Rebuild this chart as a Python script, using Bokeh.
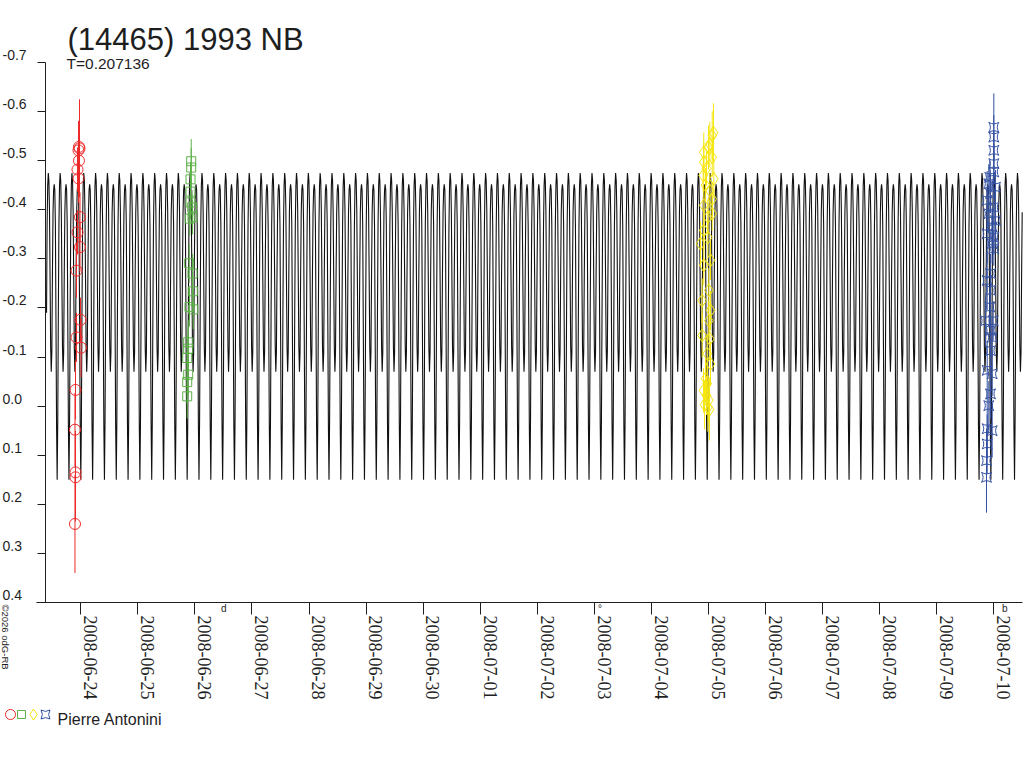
import numpy as np
from bokeh.plotting import figure
from bokeh.models import Range1d, FixedTicker, ColumnDataSource, LabelSet, Label
from bokeh.core.properties import value
from bokeh.embed import file_html
from bokeh.resources import INLINE

# ---------------- data ----------------
title_text = "(14465) 1993 NB"
subtitle_text = "T=0.207136"
period_days = 0.207136
observer = "Pierre Antonini"
copyright_text = "\u00a92026 odG-RB"

date_ticks = ["2008-06-24", "2008-06-25", "2008-06-26", "2008-06-27", "2008-06-28",
              "2008-06-29", "2008-06-30", "2008-07-01", "2008-07-02", "2008-07-03",
              "2008-07-04", "2008-07-05", "2008-07-06", "2008-07-07", "2008-07-08",
              "2008-07-09", "2008-07-10"]
mag_ticks = [-0.7, -0.6, -0.5, -0.4, -0.3, -0.2, -0.1, 0.0, 0.1, 0.2, 0.3, 0.4]
mag_tick_labels = ["-0.7", "-0.6", "-0.5", "-0.4", "-0.3", "-0.2", "-0.1",
                   "0.0", "0.1", "0.2", "0.3", "0.4"]

curve_phase = [0.00, 0.05, 0.10, 0.15, 0.20, 0.25, 0.30, 0.35, 0.40, 0.45,
               0.50, 0.55, 0.60, 0.65, 0.70, 0.75, 0.80, 0.85, 0.90, 0.95]
curve_mag = [0.150, 0.030, -0.190, -0.370, -0.450, -0.475, -0.460, -0.400, -0.260, -0.120,
             -0.070, -0.110, -0.270, -0.395, -0.440, -0.452, -0.440, -0.370, -0.170, 0.040]
curve_epoch_day = 0.0   # days after 2008-06-24 00:00 UT

# observations (days after 2008-06-24 00:00 UT, relative magnitude, error)
red_day = [-0.023, -0.040, -0.032, -0.032, -0.058, -0.040, -0.014, -0.058, -0.014,
           -0.075, -0.005, -0.075, 0.004, -0.093, -0.102, -0.093, -0.093, -0.102]
red_mag = [-0.525, -0.521, -0.528, -0.500, -0.482, -0.464, -0.385, -0.354, -0.324,
           -0.276, -0.176, -0.140, -0.119, -0.033, 0.048, 0.135, 0.145, 0.240]
red_err = [0.100, 0.060, 0.050, 0.050, 0.045, 0.050, 0.050, 0.045, 0.050,
           0.055, 0.045, 0.050, 0.060, 0.060, 0.075, 0.085, 0.090, 0.100]

green_day = [1.935, 1.935, 1.923, 1.923, 1.923, 1.952, 1.958, 1.910, 1.900, 1.958,
             1.963, 1.905, 1.970, 1.882, 1.882, 1.865, 1.882, 1.865, 1.865]
green_mag = [-0.499, -0.486, -0.462, -0.437, -0.415, -0.405, -0.385, -0.382, -0.291, -0.270,
             -0.234, -0.202, -0.197, -0.130, -0.117, -0.098, -0.064, -0.049, -0.020]
green_err = [0.045, 0.040, 0.035, 0.035, 0.035, 0.035, 0.035, 0.035, 0.040, 0.040,
             0.040, 0.040, 0.040, 0.045, 0.045, 0.045, 0.045, 0.045, 0.045]

yellow_day = [11.088, 11.066, 11.024, 11.001, 10.918, 11.066, 10.918, 10.966, 10.908, 11.094,
              10.948, 11.024, 11.066, 10.918, 11.066, 10.989, 10.918, 10.989, 10.861, 11.036,
              10.918, 11.006, 10.890, 11.036, 11.006, 10.890, 11.024, 10.978, 11.036, 10.948,
              10.978, 10.913, 10.966, 11.006, 10.931, 10.989, 11.018]
yellow_mag = [-0.557, -0.551, -0.534, -0.527, -0.517, -0.507, -0.497, -0.484, -0.470, -0.463,
              -0.450, -0.439, -0.422, -0.409, -0.392, -0.385, -0.358, -0.344, -0.331, -0.297,
              -0.287, -0.236, -0.215, -0.195, -0.174, -0.144, -0.137, -0.107, -0.086, -0.056,
              -0.046, -0.032, -0.022, -0.012, -0.003, 0.002, 0.007]
yellow_err = [0.060, 0.050, 0.045, 0.045, 0.040, 0.040, 0.040, 0.035, 0.035, 0.040,
              0.035, 0.035, 0.035, 0.040, 0.035, 0.035, 0.040, 0.040, 0.045, 0.040,
              0.040, 0.045, 0.045, 0.040, 0.040, 0.045, 0.045, 0.040, 0.045, 0.040,
              0.040, 0.045, 0.040, 0.045, 0.050, 0.050, 0.063]

blue_day = [16.001, 16.001, 16.001, 16.001, 16.001, 15.931, 15.913, 16.030, 15.943, 15.885,
            16.001, 15.913, 16.030, 15.972, 15.885, 16.001, 15.972, 16.001, 15.943, 15.885,
            15.943, 15.931, 15.990, 15.855, 15.943, 15.972, 15.943, 15.885, 15.972, 15.943,
            15.913, 15.885, 15.972, 15.885, 15.873, 15.873]
blue_mag = [-0.568, -0.548, -0.521, -0.494, -0.477, -0.466, -0.453, -0.446, -0.433, -0.419,
            -0.405, -0.392, -0.378, -0.365, -0.351, -0.344, -0.331, -0.321, -0.270, -0.256,
            -0.236, -0.202, -0.174, -0.174, -0.154, -0.140, -0.113, -0.073, -0.066, -0.025,
            -0.001, 0.046, 0.050, 0.077, 0.111, 0.145]
blue_err = [0.069, 0.045, 0.040, 0.040, 0.035, 0.035, 0.040, 0.035, 0.040, 0.060,
            0.035, 0.040, 0.035, 0.040, 0.060, 0.035, 0.040, 0.035, 0.040, 0.060,
            0.040, 0.040, 0.040, 0.050, 0.040, 0.040, 0.045, 0.060, 0.045, 0.050,
            0.050, 0.060, 0.055, 0.060, 0.065, 0.072]

# moon phases shown on the time axis (days after 2008-06-24 00:00 UT)
moon_day = [2.507, 9.097, 16.191]
moon_sym = ["d", "\u00b0", "b"]

# ---------------- layout helpers ----------------
DAY_MS = 86400000.0
BASE_MS = float(np.datetime64("2008-06-24T00:00:00", "ms").astype(np.int64))
FONT = "Liberation Sans"
INK = "#1e1e1e"
W, H = 1024, 768

def day_to_ms(d):
    return BASE_MS + np.asarray(d, dtype=float) * DAY_MS

# pixel geometry of the reference picture
X_TICK0_PX = 80.3          # 2008-06-24 00:00
PX_PER_DAY = 57.06
Y_TOP_PX, Y_BOT_PX = 62.0, 602.0   # -0.7 and 0.4

def px_day(X):
    return (X - X_TICK0_PX) / PX_PER_DAY

def px_x(X):
    return float(day_to_ms(px_day(X)))

def px_y(Y):
    return -0.7 + (Y - Y_TOP_PX) * 1.1 / (Y_BOT_PX - Y_TOP_PX)

p = figure(width=W, height=H, x_axis_type="datetime",
           x_range=Range1d(px_x(0), px_x(W)), y_range=Range1d(px_y(H), px_y(0)),
           output_backend="svg", toolbar_location=None,
           min_border=0, min_border_left=0, min_border_right=0,
           min_border_top=0, min_border_bottom=0)
p.title.visible = False
p.grid.visible = False
p.outline_line_color = None
p.background_fill_color = "white"
p.border_fill_color = "white"

tick_ms = [float(v) for v in day_to_ms(np.arange(len(date_ticks), dtype=float))]

xa = p.xaxis[0]
ya = p.yaxis[0]
xa.fixed_location = 0.4
ya.fixed_location = px_x(45)
xa.bounds = (px_x(36), px_x(1022))
ya.bounds = (-0.7, 0.4)
xa.ticker = FixedTicker(ticks=tick_ms, minor_ticks=[])
ya.ticker = FixedTicker(ticks=mag_ticks, minor_ticks=[])
for ax in (xa, ya):
    ax.axis_line_color = INK
    ax.major_tick_line_color = INK
    ax.major_tick_in = 0
    ax.minor_tick_in = 0
    ax.minor_tick_out = 0
    ax.major_label_text_color = None
xa.major_tick_out = 12
ya.major_tick_out = 8

# ---------------- model curve ----------------
d_lo, d_hi = px_day(45.5), px_day(1022)
cx, cy = [], []
for k in range(-6, int(np.ceil(17.5 / period_days)) + 6):
    for ph, m in zip(curve_phase, curve_mag):
        d = curve_epoch_day + (k + ph) * period_days
        if d_lo <= d <= d_hi:
            cx.append(d)
            cy.append(m)
p.line(day_to_ms(cx), cy, line_color="#111111", line_width=1.1)

# ---------------- observations ----------------
RED, GREEN, YELLOW, BLUE = "#ee2a2a", "#5cb248", "#f6e610", "#3451a4"
series = [
    (red_day, red_mag, red_err, RED, "circle", 11),
    (green_day, green_mag, green_err, GREEN, "square", 9),
    (yellow_day, yellow_mag, yellow_err, YELLOW, "diamond", 13),
    (blue_day, blue_mag, blue_err, BLUE, "square_pin", 10),
]
for d, m, e, col, mk, sz in series:
    m = np.asarray(m)
    e = np.asarray(e)
    src = ColumnDataSource(dict(x=day_to_ms(d), y=m, lo=m - e, hi=m + e))
    p.segment(x0="x", y0="lo", x1="x", y1="hi", source=src, line_color=col, line_width=1)
    p.scatter(x="x", y="y", source=src, marker=mk, size=sz, fill_color=None,
              line_color=col, line_width=1)

# ---------------- tick labels ----------------
ylab = ColumnDataSource(dict(x=[px_x(2)] * len(mag_ticks),
                             y=[t - 2.5 * 1.1 / 540 for t in mag_ticks],
                             text=mag_tick_labels))
p.add_layout(LabelSet(x="x", y="y", text="text", source=ylab,
                      text_align="left", text_baseline="alphabetic",
                      text_font=value(FONT), text_font_size=value("14px"), text_color=INK))

xlab = ColumnDataSource(dict(x=[float(v) for v in day_to_ms(np.arange(len(date_ticks)) + 3.3 / PX_PER_DAY)],
                             y=[px_y(615)] * len(date_ticks), text=date_ticks))
p.add_layout(LabelSet(x="x", y="y", text="text", source=xlab,
                      angle=-np.pi / 2, text_align="left", text_baseline="alphabetic",
                      text_font=value("Liberation Sans Narrow"), text_font_size=value("18px"),
                      text_color=INK))

# moon phase marks on the time axis
for d, s in zip(moon_day, moon_sym):
    p.add_layout(Label(x=float(day_to_ms(d)), y=px_y(608), text=s, text_align="center",
                       text_baseline="middle", text_font=FONT, text_font_size="10px",
                       text_color=INK))

# ---------------- titles ----------------
p.add_layout(Label(x=px_x(67), y=px_y(39), text=title_text, text_align="left",
                   text_baseline="alphabetic", text_font=FONT,
                   text_font_size="31px", text_color=INK))
p.add_layout(Label(x=px_x(66), y=px_y(63), text=subtitle_text, text_align="left",
                   text_baseline="alphabetic", text_font=FONT,
                   text_font_size="15.5px", text_color=INK))

# copyright, vertical
p.add_layout(Label(x=px_x(4.5), y=px_y(604), text=copyright_text, angle=-np.pi / 2,
                   text_align="left", text_baseline="alphabetic", text_font=FONT,
                   text_font_size="9.5px", text_color=INK))

# ---------------- legend ----------------
leg = ColumnDataSource(dict(x=[px_x(10), px_x(21), px_x(33), px_x(45)],
                            y=[px_y(714)] * 4,
                            marker=["circle", "square", "diamond", "square_pin"],
                            color=[RED, GREEN, YELLOW, BLUE],
                            size=[10, 8, 11, 9]))
p.scatter(x="x", y="y", marker="marker", size="size", line_color="color",
          fill_color=None, line_width=1, source=leg)
p.add_layout(Label(x=px_x(57), y=px_y(719), text=observer, text_align="left",
                   text_baseline="alphabetic", text_font=FONT,
                   text_font_size="16px", text_color=INK))

open("out.html", "w").write(file_html(p, INLINE))
